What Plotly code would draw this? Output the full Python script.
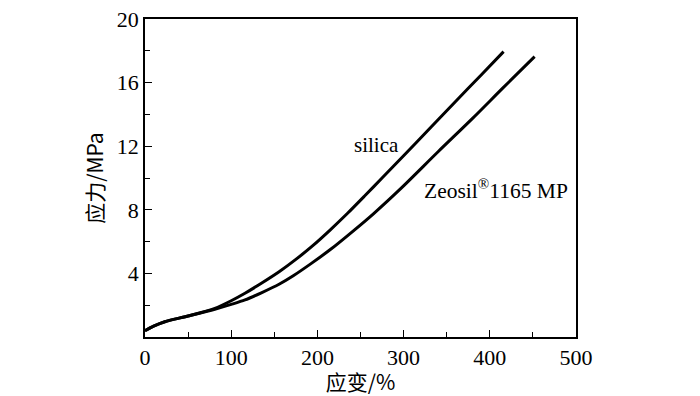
import plotly.graph_objects as go

# silica curve (strain %, stress MPa)
silica_strain = [0, 10, 23, 50, 81, 100, 116, 135, 156, 175, 195, 215, 235, 255, 275, 300, 330, 360, 390, 416]
silica_stress = [0.40, 0.68, 0.96, 1.32, 1.80, 2.28, 2.75, 3.38, 4.12, 4.88, 5.76, 6.74, 7.78, 8.88, 10.0, 11.4, 13.1, 14.8, 16.48, 17.95]

# Zeosil 1165 MP curve
zeosil_strain = [0, 10, 23, 50, 81, 100, 116, 135, 155, 172, 193, 215, 240, 265, 296, 340, 380, 415, 452]
zeosil_stress = [0.40, 0.68, 0.96, 1.32, 1.75, 2.05, 2.33, 2.78, 3.30, 3.85, 4.63, 5.5, 6.6, 7.75, 9.3, 11.65, 13.75, 15.65, 17.63]

x_ticks = [0, 100, 200, 300, 400, 500]
x_minor = [50, 150, 250, 350, 450]
y_ticks = [0, 4, 8, 12, 16, 20]
y_ticktext = ["", "4", "8", "12", "16", "20"]
y_minor = [2, 6, 10, 14, 18]

FONT = "Liberation Serif"
CJK = "Noto Sans CJK SC"

fig = go.Figure()
for xs, ys in [(silica_strain, silica_stress), (zeosil_strain, zeosil_stress)]:
    fig.add_trace(go.Scatter(x=xs, y=ys, mode="lines",
                             line=dict(color="black", width=3, shape="spline", smoothing=0.8),
                             showlegend=False))

fig.add_annotation(x=268, y=12.07, text="silica", showarrow=False,
                   font=dict(family=FONT, size=21, color="black"))
fig.add_annotation(x=407, y=9.25, text="Zeosil<sup>®</sup>1165 MP", showarrow=False,
                   font=dict(family=FONT, size=21.5, color="black"))

axis_common = dict(showline=True, linecolor="black", linewidth=1.5, mirror=True,
                   ticks="inside", ticklen=7, tickwidth=1.2, tickcolor="black",
                   showgrid=False, zeroline=False, automargin=False,
                   ticklabeloverflow="allow",
                   tickfont=dict(family=FONT, size=22, color="black"))

fig.update_xaxes(range=[0, 500], tickmode="array", tickvals=x_ticks,
                 minor=dict(tickvals=x_minor, ticks="inside", ticklen=5,
                            tickcolor="black", tickwidth=1.2),
                 title=dict(text="应变/%", font=dict(family=CJK, size=21, color="black"), standoff=1),
                 **axis_common)
fig.update_yaxes(range=[0, 20], tickmode="array", tickvals=y_ticks, ticktext=y_ticktext,
                 minor=dict(tickvals=y_minor, ticks="inside", ticklen=5,
                            tickcolor="black", tickwidth=1.2),
                 title=dict(text="应力/MPa", font=dict(family=CJK, size=21, color="black"), standoff=7),
                 **axis_common)

# page body has an 8px margin, so the figure is 8px smaller and margins shifted
fig.update_layout(width=692, height=388, margin=dict(l=137, r=124, t=11, b=59),
                  plot_bgcolor="white", paper_bgcolor="white")

fig.write_html("out.html", config={"displayModeBar": False})
